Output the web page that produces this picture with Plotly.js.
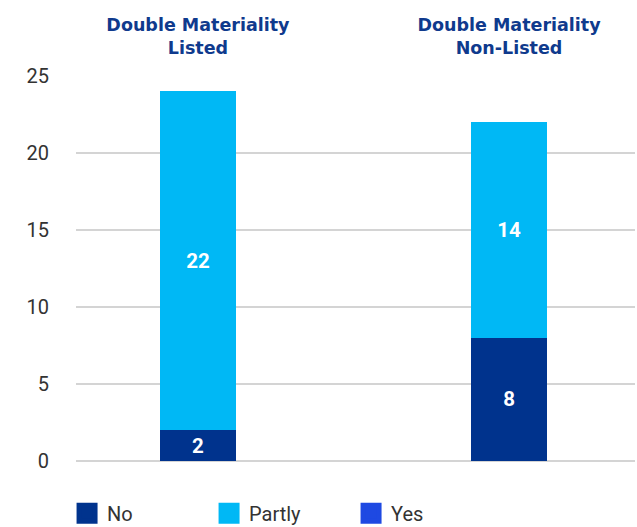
<!DOCTYPE html>
<html>
<head>
<meta charset="utf-8">
<script src="https://cdn.plot.ly/plotly-3.0.1.min.js"></script>
<style>html,body{margin:0;padding:0;background:#fff;}#chart{width:637px;height:527px;}</style>
</head>
<body>
<div id="chart"></div>
<script>
const categories = ['Double Materiality<br>Listed', 'Double Materiality<br>Non-Listed'];
const seriesNames = ['No', 'Partly', 'Yes'];
const noValues = [2, 8];
const partlyValues = [22, 14];
const yesValues = [0, 0];
const yTicks = [0, 5, 10, 15, 20, 25];

const colors = {No: '#00338D', Partly: '#00B8F5', Yes: '#1E49E2'};
const seriesValues = {No: noValues, Partly: partlyValues, Yes: yesValues};

const traces = [];
seriesNames.forEach(name => {
  const vals = seriesValues[name];
  traces.push({
    type: 'bar', name: name, x: categories, y: vals,
    marker: {color: colors[name]},
    width: 0.244,
    text: vals.map(v => v > 0 ? String(v) : ''),
    textposition: 'inside', insidetextanchor: 'middle', textangle: 0,
    textfont: {family: 'Roboto', size: 20.5, color: '#ffffff', weight: 'bold'},
    hoverinfo: 'skip', showlegend: false
  });
});
// legend entries
seriesNames.forEach(name => {
  traces.push({
    type: 'scatter', mode: 'markers', name: name, x: [null], y: [null],
    marker: {symbol: 'square', size: 16, color: colors[name], line: {color: colors[name], width: 5}},
    showlegend: true, hoverinfo: 'skip'
  });
});

const layout = {
  width: 637, height: 527,
  margin: {l: 76, r: 2, t: 76, b: 66, autoexpand: false},
  paper_bgcolor: '#ffffff', plot_bgcolor: '#ffffff',
  barmode: 'stack',
  font: {family: 'Roboto', color: '#333333', size: 20},
  xaxis: {
    type: 'category', side: 'top', range: [-0.392, 1.405],
    showgrid: false, zeroline: false, showline: false, ticks: '',
    tickfont: {family: 'DejaVu Sans', size: 17.5, color: '#0F3A8D', weight: 'bold'},
    ticklabelstandoff: 18, fixedrange: true
  },
  yaxis: {
    range: [0, 25], tickvals: yTicks, ticktext: yTicks.map(String),
    showgrid: true, gridcolor: '#d4d4d4', gridwidth: 1.5,
    zeroline: true, zerolinecolor: '#d4d4d4', zerolinewidth: 1.5,
    showline: false, ticks: '',
    tickfont: {family: 'Roboto', size: 20, color: '#333333'},
    ticklabelstandoff: 26, fixedrange: true
  },
  showlegend: true,
  legend: {
    orientation: 'h', x: -0.016, xanchor: 'left', y: -0.085, yanchor: 'top',
    font: {family: 'Roboto', size: 20, color: '#333333'},
    entrywidth: 97, itemclick: false, itemdoubleclick: false,
    traceorder: 'normal'
  }
};

Plotly.newPlot('chart', traces, layout, {displayModeBar: false, staticPlot: true});
</script>
</body>
</html>
